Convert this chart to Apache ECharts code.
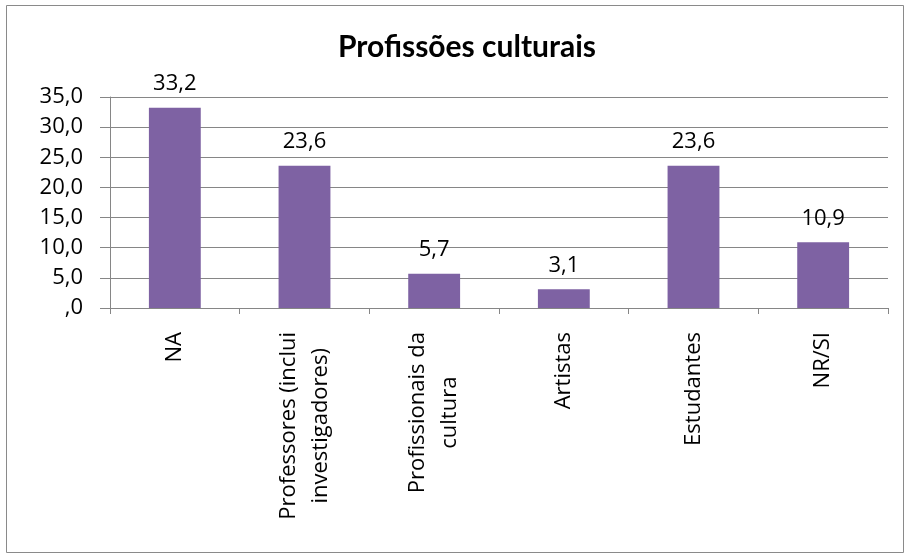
<!DOCTYPE html>
<html>
<head>
<meta charset="utf-8">
<script src="https://cdn.jsdelivr.net/npm/echarts@6/dist/echarts.min.js"></script>
<style>
  html, body { margin: 0; padding: 0; background: #fff; }
  #chart { width: 905px; height: 558px; }
</style>
</head>
<body>
<div id="chart"></div>
<script>
// Profissões culturais (%)
const categories = ['NA', 'Professores (inclui\ninvestigadores)', 'Profissionais da\ncultura', 'Artistas', 'Estudantes', 'NR/SI'];
const values = [33.2, 23.6, 5.7, 3.1, 23.6, 10.9];
const yTicks = [0, 5, 10, 15, 20, 25, 30, 35];

const font = 'Open Sans';
const fmt = v => v === 0 ? ',0' : v.toFixed(1).replace('.', ',');

const chart = echarts.init(document.getElementById('chart'));
chart.setOption({
  animation: false,
  backgroundColor: '#fff',
  title: {
    text: 'Profissões culturais',
    left: 462,
    textAlign: 'center',
    top: 27,
    textStyle: { fontFamily: 'Lato', fontSize: 30, fontWeight: 'bold', color: '#000' }
  },
  graphic: [{
    type: 'rect',
    shape: { x: 6.5, y: 5.5, width: 897, height: 547 },
    style: { fill: 'none', stroke: '#8a8a8a', lineWidth: 1 },
    z: -1
  }],
  grid: { left: 110, right: 17, top: 97, bottom: 250 },
  xAxis: {
    type: 'category',
    data: categories,
    axisLine: { lineStyle: { color: '#868686' } },
    axisTick: { show: true, length: 6, lineStyle: { color: '#868686' } },
    axisLabel: {
      rotate: 90,
      interval: 0,
      margin: 24,
      color: '#000',
      fontFamily: font,
      fontSize: 22,
      lineHeight: 32,
      formatter: v => v.split('\n').map(s => '{c|' + s + '}').join('\n'),
      rich: { c: { align: 'center', fontFamily: font, fontSize: 22, lineHeight: 32, color: '#000' } }
    }
  },
  yAxis: {
    type: 'value',
    min: yTicks[0],
    max: yTicks[yTicks.length - 1],
    interval: 5,
    axisLine: { show: true, lineStyle: { color: '#868686' } },
    axisTick: { show: true, length: 10, lineStyle: { color: '#868686' } },
    axisLabel: { color: '#000', fontFamily: font, fontSize: 22, margin: 27, formatter: fmt },
    splitLine: { lineStyle: { color: '#868686' } }
  },
  series: [{
    type: 'bar',
    data: values,
    barWidth: '40%',
    itemStyle: { color: '#7e62a3' },
    label: {
      show: true,
      position: 'top',
      distance: 13,
      color: '#000',
      fontFamily: font,
      fontSize: 22,
      formatter: p => fmt(p.value)
    }
  }]
});
</script>
</body>
</html>
